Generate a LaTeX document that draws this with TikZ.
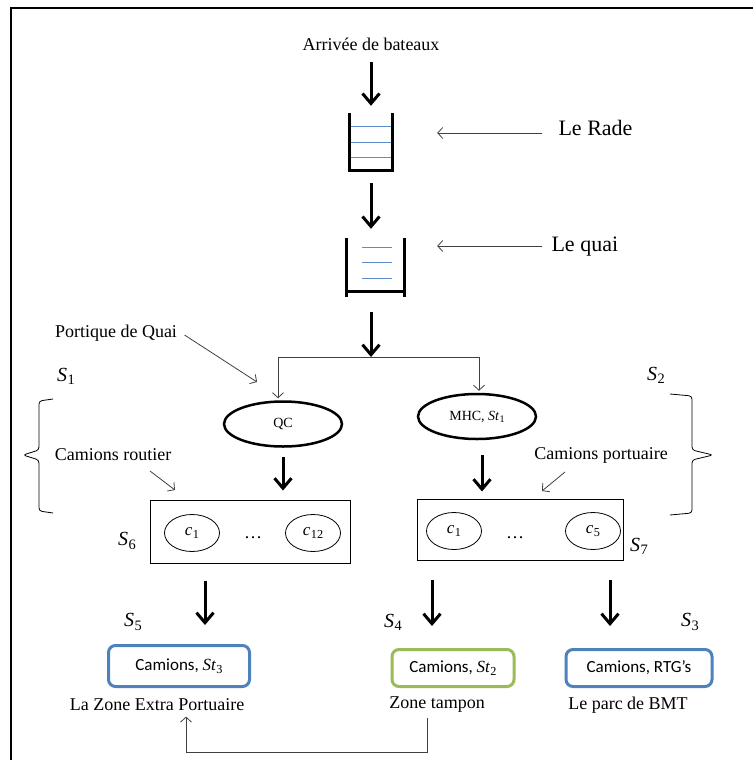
\documentclass[tikz,border=0pt]{standalone}
\usepackage{fontspec}
\setmainfont{Liberation Serif}
\newfontfamily\calib{Carlito}
\newfontfamily\mathlike{Liberation Serif}
\usetikzlibrary{arrows.meta,shapes.geometric,positioning}
\definecolor{boxblue}{RGB}{79,129,189}
\definecolor{boxgreen}{RGB}{155,187,89}
\definecolor{levelblue}{RGB}{91,140,205}
% italic symbol with a small upright index
\newcommand{\idx}[2]{{\mathlike\itshape #1}\kern0.5pt\raisebox{-0.35ex}{\scalebox{0.72}{\mathlike #2}}}
\tikzset{
  bigarrow/.style={line width=3pt,-{Straight Barb[length=10pt,width=17pt]}},
  thinarrow/.style={line width=0.8pt,draw=black!75,-{Straight Barb[length=5pt,width=11pt]}},
  wall/.style={line width=3.2pt},
  level/.style={levelblue,line width=1pt},
  crane/.style={ellipse,draw,line width=2.5pt,minimum width=118,minimum height=45,inner sep=0pt,font=\fontsize{14}{16}\selectfont},
  truck/.style={ellipse,draw,line width=0.8pt,minimum width=55,minimum height=37,inner sep=0pt,font=\fontsize{17}{19}\selectfont},
  group/.style={draw,line width=1pt,inner sep=0pt},
  zone/.style={draw,line width=3pt,rounded corners=7pt,inner sep=0pt,font=\calib\fontsize{17}{19}\selectfont},
  lbl/.style={font=\fontsize{18}{20}\selectfont},
  biglbl/.style={font=\fontsize{22}{24}\selectfont},
  sname/.style={font=\fontsize{20}{22}\selectfont},
}
\begin{document}
\begin{tikzpicture}[x=1pt,y=-1pt]
  \useasboundingbox (0,0) rectangle (753,760);
  % frame
  \draw[line width=1.5pt] (11,760) -- (11,8) -- (753,8);

  % arrivals and the two queues
  \node[lbl] (arrivee) at (371,44) {Arrivée de bateaux};
  \node[minimum width=42,minimum height=57,inner sep=0pt] (rade) at (371,141.5) {};
  \node[minimum width=57,minimum height=59,inner sep=0pt] (quai) at (375.5,267.5) {};
  \foreach \y in {126,142,157} {\draw[level] (350,\y) -- (392,\y);}
  \foreach \y in {247,262,278} {\draw[level] (362,\y) -- (392,\y);}
  \draw[wall] (rade.north west) -- (rade.south west) -- (rade.south east) -- (rade.north east);
  \draw[wall] (quai.north west) -- (quai.south west);
  \draw[wall] (quai.north east) -- (quai.south east);
  \draw[wall] ([yshift=6pt]quai.south west) -- ([yshift=6pt]quai.south east);
  \draw[bigarrow,shorten <=8pt,shorten >=7pt] (arrivee) -- (rade);
  \draw[bigarrow,shorten <=13pt,shorten >=9pt] (rade.south) -- (rade.south |- quai.north);

  \node[biglbl,anchor=west] (radelbl) at (555,128) {Le Rade};
  \node[biglbl,anchor=west] (quailbl) at (548,247) {Le quai};
  \coordinate (radetail) at (542,133);
  \coordinate (quaitail) at (542,246);
  \draw[thinarrow,shorten >=45pt] (radetail) -- (radetail -| rade.east);
  \draw[thinarrow,shorten >=33pt] (quaitail) -- (quaitail -| quai.east);

  % cranes
  \coordinate (split) at (371,357);
  \node[crane] (qc) at (283,424) {QC};
  \node[crane] (mhc) at (477,416.5) {MHC, \idx{St}{1}};
  \draw[bigarrow,shorten <=15pt] (split |- quai.south) -- (split);
  \draw[thinarrow,shorten >=2pt] (split) -| ([xshift=-5pt]qc.north);
  \draw[thinarrow,shorten >=2pt] (split) -| ([xshift=2pt]mhc.north);

  \node[lbl] (portique) at (116,333) {Portique de Quai};
  \coordinate (portiquehead) at (257,382);
  \draw[thinarrow] ([xshift=4pt,yshift=-2pt]portique.east) -- (portiquehead);

  \node[sname] (s1) at (66,376) {\idx{S}{1}};
  \node[sname] (s2) at (656,375) {\idx{S}{2}};

  % braces
  \draw[line width=0.8pt,rounded corners=3pt] (53,399) -- (39,401) -- (39,450) -- (23,455) -- (39,460) -- (39,511) -- (53,513);
  \draw[line width=0.8pt,rounded corners=3pt] (670,394) -- (692,396) -- (692,450) -- (713,455) -- (692,460) -- (692,513) -- (670,515);

  % trucks
  \node[lbl] (routier) at (113,455) {Camions routier};
  \node[lbl] (portuaire) at (601,455) {Camions portuaire};
  \coordinate (routiertail) at (150,471);
  \coordinate (routierhead) at (175,490);
  \coordinate (portuairetail) at (565,472);
  \coordinate (portuairehead) at (542,491);
  \draw[thinarrow] (routiertail) -- (routierhead);
  \draw[thinarrow] (portuairetail) -- (portuairehead);

  \node[group,minimum width=200,minimum height=63] (g6) at (250,531.5) {};
  \node[group,minimum width=206,minimum height=61] (g7) at (520,529.5) {};
  \node[truck] (c1a) at (192,533) {\idx{c}{1}};
  \node[truck] (c12) at (313,533) {\idx{c}{12}};
  \node[truck] (c1b) at (454,531) {\idx{c}{1}};
  \node[truck] (c5) at (593,531) {\idx{c}{5}};
  \node[lbl] (dotsa) at (253,538) {\dots};
  \node[lbl] (dotsb) at (515,538) {\dots};
  \node[sname] (s6) at (127,541) {\idx{S}{6}};
  \node[sname] (s7) at (639,546) {\idx{S}{7}};

  \draw[bigarrow,shorten <=9pt,shorten >=9pt] (qc) -- (qc |- g6.north);
  \draw[bigarrow,shorten <=15pt,shorten >=7pt] ([xshift=5pt]mhc.south) -- ([xshift=5pt]mhc.south |- g7.north);

  % storage zones
  \node[zone,draw=boxblue,minimum width=141,minimum height=41] (z5) at (179,666) {Camions, \idx{St}{3}};
  \node[zone,draw=boxgreen,minimum width=122,minimum height=37] (z4) at (453,668) {Camions, \idx{St}{2}};
  \node[zone,draw=boxblue,minimum width=146,minimum height=37] (z3) at (639,668) {Camions, RTG’s};
  \node[lbl] (extra) at (157,705) {La Zone Extra Portuaire};
  \node[lbl] (tampon) at (437,705) {Zone tampon};
  \node[lbl] (bmt) at (628,705) {Le parc de BMT};
  \node[sname] (s5) at (133,622) {\idx{S}{5}};
  \node[sname] (s4) at (393,622) {\idx{S}{4}};
  \node[sname] (s3) at (690,622) {\idx{S}{3}};

  \draw[bigarrow,shorten <=17pt,shorten >=19pt] ([xshift=-45pt]g6.south) -- ([xshift=-45pt]g6.south |- z5.north);
  \draw[bigarrow,shorten <=19pt,shorten >=22pt] ([xshift=-88pt]g7.south) -- ([xshift=-88pt]g7.south |- z4.north);
  \draw[bigarrow,shorten <=19pt,shorten >=22pt] ([xshift=90pt]g7.south) -- ([xshift=90pt]g7.south |- z3.north);

  % return from buffer zone
  \coordinate (backa) at (427,752);
  \coordinate (backb) at (186,752);
  \draw[thinarrow,shorten <=2pt,shorten >=2pt] (tampon.south -| backa) -- (backa) -- (backb) -- (extra.south -| backb);
\end{tikzpicture}
\end{document}
